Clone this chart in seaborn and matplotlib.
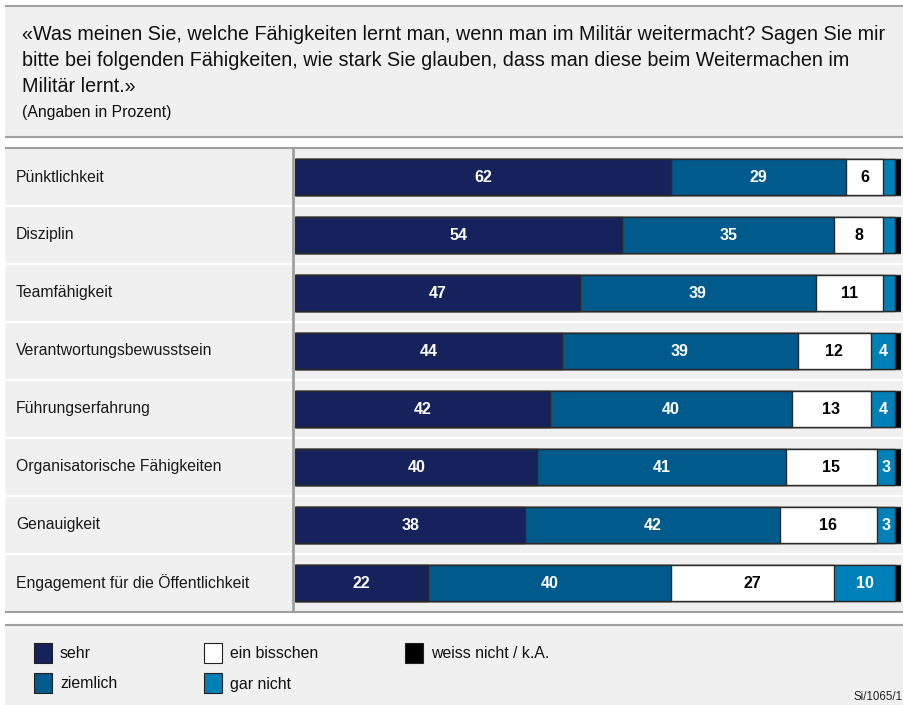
import numpy as np
import pandas as pd
import seaborn as sns
import matplotlib
matplotlib.use("Agg")
import matplotlib.pyplot as plt
from matplotlib.patches import Rectangle
from matplotlib.lines import Line2D
import matplotlib.transforms as mtransforms

# ---------------- data ----------------
categories = ["Pünktlichkeit", "Disziplin", "Teamfähigkeit", "Verantwortungsbewusstsein",
              "Führungserfahrung", "Organisatorische Fähigkeiten", "Genauigkeit",
              "Engagement für die Öffentlichkeit"]
sehr = [62, 54, 47, 44, 42, 40, 38, 22]
ziemlich = [29, 35, 39, 39, 40, 41, 42, 40]
ein_bisschen = [6, 8, 11, 12, 13, 15, 16, 27]
gar_nicht = [2, 2, 2, 4, 4, 3, 3, 10]
weiss_nicht = [1, 1, 1, 1, 1, 1, 1, 1]
series_names = ["sehr", "ziemlich", "ein bisschen", "gar nicht", "weiss nicht / k.A."]

title_lines = ["«Was meinen Sie, welche Fähigkeiten lernt man, wenn man im Militär weitermacht? Sagen Sie mir",
               "bitte bei folgenden Fähigkeiten, wie stark Sie glauben, dass man diese beim Weitermachen im",
               "Militär lernt.»"]
subtitle = "(Angaben in Prozent)"
source = "Si/1065/1"

# ---------------- style ----------------
sns.set_theme(style="white")
plt.rcParams['font.family'] = ['Liberation Sans', 'DejaVu Sans']

colors = ["#15225c", "#005a8c", "#ffffff", "#0080b8", "#000000"]
label_colors = ["white", "white", "black", "white", "white"]
BG = "#f0f0f0"
LINE = "#a0a0a0"
EDGE = "#2a2a2a"

W, H = 904, 705
fig = plt.figure(figsize=(W / 100, H / 100), dpi=100)
fig.patch.set_facecolor("white")


def fx(px):
    return px / W


def fy(py):
    return 1 - py / H


def frect(x0, y0, x1, y1, color, z=0):
    fig.add_artist(Rectangle((fx(x0), fy(y1)), fx(x1) - fx(x0), fy(y0) - fy(y1),
                             transform=fig.transFigure, facecolor=color, edgecolor="none", zorder=z))


def fline(xs, ys, color=LINE, lw=1.5, z=1):
    fig.add_artist(Line2D([fx(x) for x in xs], [fy(y) for y in ys], transform=fig.transFigure,
                          color=color, lw=lw, zorder=z, solid_capstyle="butt"))


# panels
frect(5, 6, W, 137, BG)
fline([5, W], [6, 6])
fline([5, W], [137, 137])
frect(5, 148, W, 612, BG)
fline([5, W], [148, 148])
fline([5, W], [612, 612])
fline([293, 293], [148, 612], lw=2.0)
frect(5, 625, W, H, BG)
fline([5, W], [625, 625])

# ---------------- bars ----------------
ax = fig.add_axes([fx(295), fy(612), fx(901) - fx(295), fy(148) - fy(612)])
ax.set_facecolor("none")

values = [sehr, ziemlich, ein_bisschen, gar_nicht, weiss_nicht]
cum = np.cumsum(np.array(values), axis=0)
for i in reversed(range(len(values))):
    df = pd.DataFrame({"Kategorie": categories, "Wert": cum[i]})
    sns.barplot(data=df, x="Wert", y="Kategorie", orient="h", color=colors[i],
                saturation=1, edgecolor=EDGE, linewidth=1.0, width=0.62,
                errorbar=None, ax=ax, zorder=3)

ax.set_xlim(0, 100)
ax.set_ylim(len(categories) - 0.5, -0.5)
ax.set_axis_off()

blend = mtransforms.blended_transform_factory(fig.transFigure, ax.transData)
for k in range(len(categories) - 1):
    ax.add_line(Line2D([fx(5), 1], [k + 0.5, k + 0.5], transform=blend, color="white",
                       lw=1.5, clip_on=False, zorder=1))

for r, cat in enumerate(categories):
    ax.text(fx(16), r, cat, transform=blend, ha="left", va="center", fontsize=11.3,
            color="#1a1a1a")
    start = 0
    for i, vals in enumerate(values):
        v = vals[r]
        if v >= 3 and i < 4:
            ax.text(start + v / 2, r, str(v), ha="center", va="center", fontsize=11.5,
                    fontweight="bold", color=label_colors[i], zorder=5)
        start += v

# ---------------- texts ----------------
for j, line in enumerate(title_lines):
    fig.text(fx(22), fy(35 + 26 * j), line, ha="left", va="center", fontsize=14.2,
             color="#111111")
fig.text(fx(22), fy(113), subtitle, ha="left", va="center", fontsize=11.3, color="#111111")
fig.text(fx(903), fy(697), source, ha="right", va="center", fontsize=8.3, color="#222222")

# ---------------- legend ----------------
leg_pos = [(34, 653), (34, 683), (204, 653), (204, 683), (405, 653)]
for (lx, ly), name, c in zip(leg_pos, series_names, colors):
    fig.add_artist(Rectangle((fx(lx), fy(ly + 10)), fx(18), 20 / H, transform=fig.transFigure,
                             facecolor=c, edgecolor="#222222", lw=0.8, zorder=2))
    fig.text(fx(lx + 26), fy(ly + 1), name, ha="left", va="center", fontsize=11.4,
             color="#111111")

fig.savefig("out.png", dpi=100, facecolor=fig.get_facecolor())
